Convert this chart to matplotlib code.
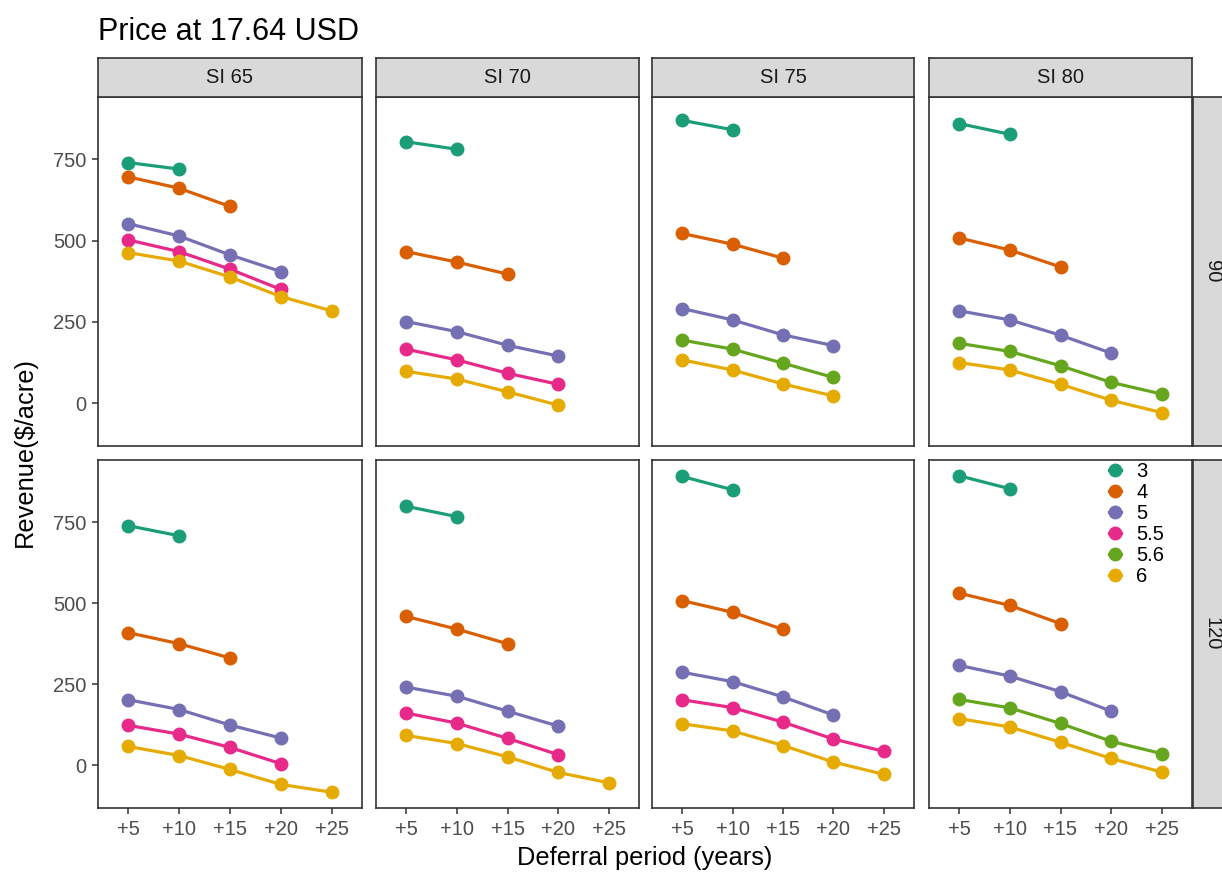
import matplotlib
matplotlib.use("Agg")
import matplotlib.pyplot as plt
from matplotlib.lines import Line2D

plt.rcParams['font.family'] = ['Liberation Sans', 'DejaVu Sans']

# ---------------- data ----------------
deferral_labels = ["+5", "+10", "+15", "+20", "+25"]
si_levels = ["SI 65", "SI 70", "SI 75", "SI 80"]
row_levels = ["90", "120"]
groups = ["3", "4", "5", "5.5", "5.6", "6"]
group_colors = ["#1B9E77", "#D95F02", "#7570B3", "#E7298A", "#66A61E", "#E6AB02"]

# revenue ($/acre) per panel; each list starts at +5
rev_90_si65 = {"3": [740, 720], "4": [696, 661, 605], "5": [552, 514, 456, 405],
               "5.5": [502, 466, 412, 350], "6": [463, 437, 388, 328, 284]}
rev_90_si70 = {"3": [804, 781], "4": [466, 434, 397], "5": [251, 220, 178, 145],
               "5.5": [166, 133, 92, 58], "6": [98, 74, 35, -6]}
rev_90_si75 = {"3": [870, 841], "4": [522, 489, 446], "5": [291, 256, 210, 177],
               "5.6": [194, 166, 123, 79], "6": [133, 102, 59, 22]}
rev_90_si80 = {"3": [860, 827], "4": [508, 471, 419], "5": [284, 256, 209, 154],
               "5.6": [184, 159, 115, 64, 28], "6": [125, 102, 58, 9, -29]}
rev_120_si65 = {"3": [739, 708], "4": [409, 375, 331], "5": [202, 172, 124, 84],
                "5.5": [123, 96, 55, 5], "6": [58, 30, -13, -59, -83]}
rev_120_si70 = {"3": [799, 767], "4": [459, 420, 375], "5": [241, 213, 167, 121],
                "5.5": [161, 130, 83, 33], "6": [92, 67, 26, -22, -54]}
rev_120_si75 = {"3": [891, 850], "4": [508, 472, 419], "5": [287, 258, 211, 155],
                "5.5": [202, 178, 133, 81, 43], "6": [128, 106, 61, 10, -28]}
rev_120_si80 = {"3": [893, 853], "4": [531, 493, 437], "5": [308, 275, 227, 167],
                "5.6": [203, 177, 129, 74, 36], "6": [144, 118, 71, 21, -21]}

panels = [[rev_90_si65, rev_90_si70, rev_90_si75, rev_90_si80],
          [rev_120_si65, rev_120_si70, rev_120_si75, rev_120_si80]]

# ---------------- layout ----------------
W, H = 1222, 876
fig = plt.figure(figsize=(W / 100, H / 100), dpi=100)
fig.patch.set_facecolor("white")

def fa(x0, y0, x1, y1):
    return [x0 / W, 1 - y1 / H, (x1 - x0) / W, (y1 - y0) / H]

col_x = [(98, 362), (376, 639), (652, 914), (929, 1192)]
row_y = [(97, 446), (460, 808)]
strip_top = (58, 97)
strip_right = (1193, 1232)

all_vals = [v for row in panels for p in row for s in p.values() for v in s]
vmin, vmax = min(all_vals), max(all_vals)
pad = 0.05 * (vmax - vmin)
ylim = (vmin - pad, vmax + pad)
xlim = (-0.6, len(deferral_labels) - 1 + 0.6)

tick_col = "#4D4D4D"
tick_fs = 14.5
strip_fs = 14.5
line_w = 2.3
mk = 9.0
axes_grid = []
for r, (y0, y1) in enumerate(row_y):
    for c, (x0, x1) in enumerate(col_x):
        ax = fig.add_axes(fa(x0, y0, x1, y1))
        data = panels[r][c]
        for g, col in zip(groups, group_colors):
            if g in data:
                vals = data[g]
                xs = list(range(len(vals)))
                ax.plot(xs, vals, color=col, lw=line_w, marker="o", ms=mk,
                        solid_capstyle="butt", zorder=3)
        ax.set_xlim(*xlim)
        ax.set_ylim(*ylim)
        ax.set_xticks(range(len(deferral_labels)))
        ax.set_xticklabels(deferral_labels)
        ax.set_yticks([0, 250, 500, 750])
        for s in ax.spines.values():
            s.set_color("#333333")
            s.set_linewidth(1.2)
        ax.tick_params(axis="both", length=4.5, width=1.1, color="#333333",
                       labelcolor=tick_col, labelsize=tick_fs, pad=4)
        if c != 0:
            ax.tick_params(axis="y", left=False, labelleft=False)
        if r != 1:
            ax.tick_params(axis="x", bottom=False, labelbottom=False)
        axes_grid.append(ax)

        if r == 0:
            sax = fig.add_axes(fa(x0, strip_top[0], x1, strip_top[1]))
            sax.set_facecolor("#D9D9D9")
            sax.set_xticks([]); sax.set_yticks([])
            for s in sax.spines.values():
                s.set_color("#333333"); s.set_linewidth(1.2)
            sax.text(0.5, 0.5, si_levels[c], ha="center", va="center",
                     fontsize=strip_fs, color="#1A1A1A", transform=sax.transAxes)
    rax = fig.add_axes(fa(strip_right[0], y0, strip_right[1], y1))
    rax.set_facecolor("#D9D9D9")
    rax.set_xticks([]); rax.set_yticks([])
    for s in rax.spines.values():
        s.set_color("#333333"); s.set_linewidth(1.2)
    rax.text(0.5, 0.5, row_levels[r], ha="center", va="center", rotation=-90,
             fontsize=strip_fs, color="#1A1A1A", transform=rax.transAxes)

# legend inside last panel
handles = [Line2D([0], [0], color=col, lw=line_w, marker="o", ms=mk)
           for col in group_colors]
leg_ax = axes_grid[-1]
leg_ax.legend(handles, groups, loc="upper left",
              bbox_to_anchor=((1107 - col_x[3][0]) / (col_x[3][1] - col_x[3][0]), 1.0),
              frameon=False, fontsize=tick_fs, handlelength=0.6, handletextpad=0.75,
              labelspacing=0.1, borderaxespad=0.0, borderpad=0.1)

fig.text(98 / W, 1 - 40 / H, "Price at 17.64 USD", fontsize=22, ha="left",
         va="baseline", color="black")
fig.text(645 / W, 1 - 865 / H, "Deferral period (years)", fontsize=18.3,
         ha="center", va="baseline")
fig.text(25 / W, 1 - 452 / H, "Revenue($/acre)", fontsize=18.3,
         ha="center", va="center", rotation=90)

fig.savefig("out.png", dpi=100)
